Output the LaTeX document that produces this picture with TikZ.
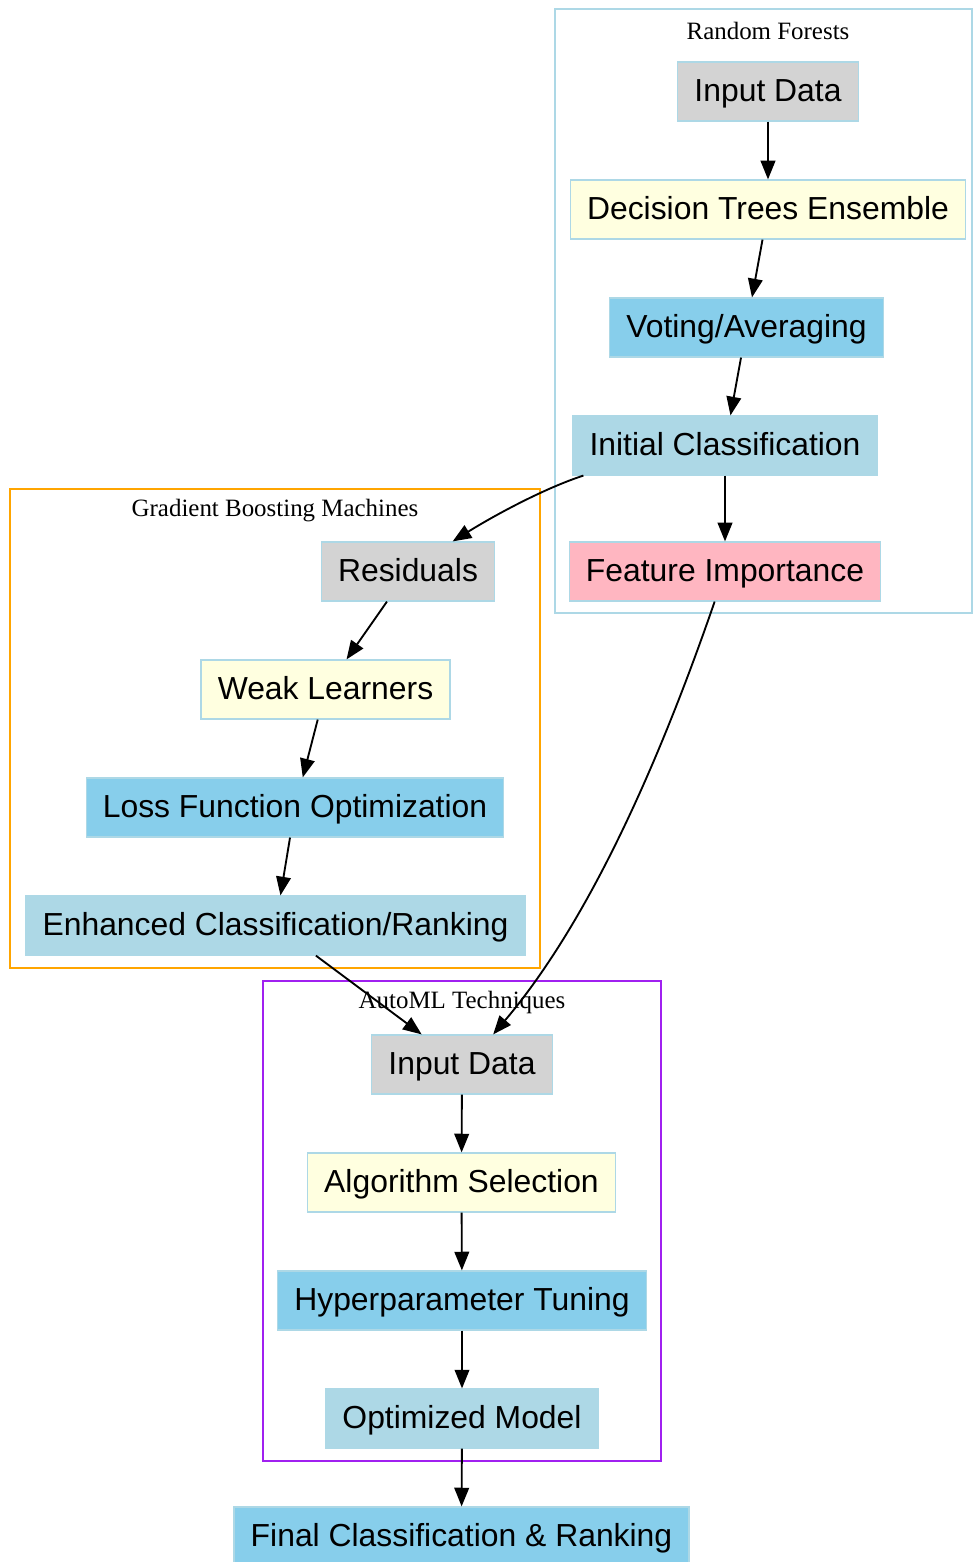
\documentclass[tikz,border=0pt]{standalone}
\usepackage{fontspec}
\setmainfont{Liberation Serif}
\newfontfamily\boxfont{Liberation Sans}
\usetikzlibrary{arrows.meta}
\definecolor{lightgrey}{HTML}{D3D3D3}
\definecolor{lightyellow}{HTML}{FFFFE0}
\definecolor{skyblue}{HTML}{87CEEB}
\definecolor{lightblue}{HTML}{ADD8E6}
\definecolor{lightpink}{HTML}{FFB6C1}
\definecolor{orangeline}{HTML}{FFA500}
\definecolor{purpleline}{HTML}{A020F0}

\begin{document}
\begin{tikzpicture}[x=0.75pt, y=-0.75pt,
  box/.style={draw=lightblue, line width=0.9pt, rectangle, minimum height=44.25pt, inner xsep=12.5pt, text height=20pt, text depth=4.6pt, font=\boxfont\fontsize{23.9}{28}\selectfont},
  cluster/.style={line width=1.1pt},
  title/.style={font=\fontsize{18.7}{22}\selectfont},
  flow/.style={-{Triangle[length=14pt,width=11pt]}, line width=1.4pt}]
  \useasboundingbox (0,0) rectangle (972,1562);

  % Random Forests
  \draw[cluster, lightblue] (555,9) rectangle (972,613);
  \node[title] (rftitle) at (768,30.5) {Random Forests};
  \node[box, fill=lightgrey] (rfin) at (768,91.5) {Input Data};
  \node[box, fill=lightyellow] (dte) at (768,209.5) {Decision Trees Ensemble};
  \node[box, fill=skyblue] (vote) at (746.5,327.5) {Voting/Averaging};
  \node[box, fill=lightblue] (init) at (725,445.5) {Initial Classification};
  \node[box, fill=lightpink] (feat) at (725,571.5) {Feature Importance};

  % Gradient Boosting Machines
  \draw[cluster, orangeline] (10,489) rectangle (540,968);
  \node[title] (gbmtitle) at (275,510.5) {Gradient Boosting Machines};
  \node[box, fill=lightgrey] (res) at (408,571.5) {Residuals};
  \node[box, fill=lightyellow] (weak) at (325.5,689.5) {Weak Learners};
  \node[box, fill=skyblue] (loss) at (295,807.5) {Loss Function Optimization};
  \node[box, fill=lightblue] (enh) at (275.5,925.5) {Enhanced Classification/Ranking};

  % AutoML Techniques
  \draw[cluster, purpleline] (263,981) rectangle (661,1461);
  \node[title] (amltitle) at (462,1002.5) {AutoML Techniques};
  \node[box, fill=lightgrey] (amlin) at (462,1064.5) {Input Data};
  \node[box, fill=lightyellow] (algo) at (461.5,1182.5) {Algorithm Selection};
  \node[box, fill=skyblue] (hyper) at (462,1300.5) {Hyperparameter Tuning};
  \node[box, fill=lightblue] (opt) at (462,1418.5) {Optimized Model};

  \node[box, fill=skyblue] (final) at (461.5,1536.5) {Final Classification \& Ranking};

  % Edges
  \foreach \a/\b in {rfin/dte, dte/vote, vote/init, init/feat, res/weak, weak/loss, loss/enh, enh/amlin, amlin/algo, algo/hyper, hyper/opt, opt/final} {
    \draw[flow] (\a) -- (\b);
  }
  \draw[flow] (init.192) .. controls (545,488) and (495,515) .. (res.34);
  \draw[flow] (feat.251) .. controls (660,760) and (590,920) .. (amlin.44);
\end{tikzpicture}
\end{document}
